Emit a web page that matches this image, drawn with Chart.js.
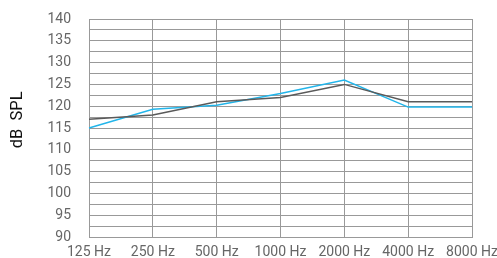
<!DOCTYPE html>
<html>
<head>
<meta charset="utf-8">
<script src="https://cdn.jsdelivr.net/npm/chart.js@4"></script>
<style>
    html, body { margin: 0; padding: 0; background: #fff; overflow: hidden; }
    #chart_container { position: relative; width: 497px; height: 258px; }
</style>
</head>
<body>
<div id="chart_container"><canvas id="my_report"></canvas></div>
<script>
const frequencies = ['125 Hz', '250 Hz', '500 Hz', '1000 Hz', '2000 Hz', '4000 Hz', '8000 Hz'];
const blue_values = [115, 119.3, 120.2, 122.9, 126, 119.8, 119.8];
const gray_values = [117, 118, 121, 122, 125, 121, 121];
const y_min = 90;
const y_max = 140;
const y_step = 2.5;

const ctx = document.getElementById('my_report');

new Chart(ctx, {
    type: 'line',
    data: {
        labels: frequencies,
        datasets: [
            {
                label: 'gray',
                data: gray_values,
                borderColor: '#5a5a5a',
                borderWidth: 1.5,
                pointRadius: 0,
                tension: 0
            },
            {
                label: 'blue',
                data: blue_values,
                borderColor: '#22b5ea',
                borderWidth: 1.5,
                pointRadius: 0,
                tension: 0
            }
        ]
    },
    options: {
        responsive: true,
        maintainAspectRatio: false,
        animation: false,
        layout: { padding: { top: 19, right: 25, left: 0, bottom: 0 } },
        plugins: {
            legend: { display: false },
            tooltip: { enabled: false }
        },
        scales: {
            x: {
                offset: false,
                grid: { color: '#999', drawTicks: false },
                border: { color: '#999' },
                ticks: {
                    padding: 7,
                    maxRotation: 0,
                    autoSkip: false,
                    color: '#666',
                    font: { family: 'Roboto', size: 14 }
                },
                afterFit: (scale) => {
                    scale.height = 21;
                    scale.paddingLeft = 0;
                    scale.paddingRight = 0;
                }
            },
            y: {
                min: y_min,
                max: y_max,
                grid: { color: '#999', drawTicks: false },
                border: { color: '#999' },
                ticks: {
                    stepSize: y_step,
                    maxTicksLimit: 40,
                    autoSkip: false,
                    padding: 18,
                    color: '#666',
                    font: { family: 'Roboto', size: 14 },
                    callback: (v) => v % 5 === 0 ? v : ''
                },
                title: {
                    display: true,
                    // leading spaces push the rotated title up a little, as in the original
                    text: '    dB  SPL',
                    color: '#111',
                    font: { family: 'Roboto', size: 16.5 },
                    padding: { top: 8, bottom: 0 }
                },
                afterFit: (scale) => {
                    scale.width = 89;
                    scale.paddingTop = 0;
                    scale.paddingBottom = 0;
                }
            }
        }
    }
});
</script>
</body>
</html>
